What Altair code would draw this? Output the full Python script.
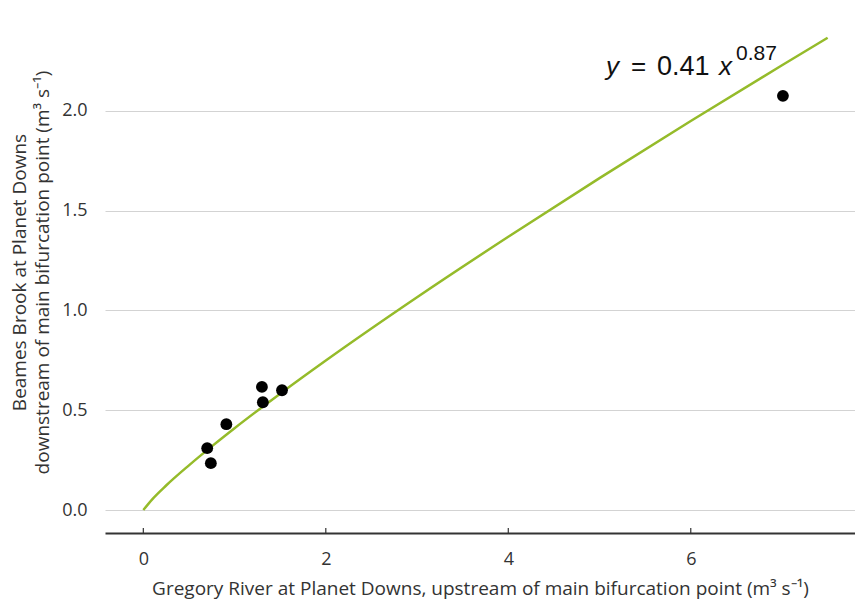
import altair as alt
import pandas as pd

# Observed points (Gregory River flow, Beames Brook flow), m3/s
gregory = [0.70, 0.74, 0.91, 1.30, 1.31, 1.52, 7.01]
beames = [0.31, 0.235, 0.43, 0.617, 0.54, 0.60, 2.075]

# Fitted power curve
curve_x = [0.0, 0.1, 0.25, 0.5, 0.75, 1.0, 1.5, 2.0, 3.0, 4.0, 5.0, 6.0, 7.0, 7.5]
curve_y = [0.0, 0.055, 0.123, 0.224, 0.319, 0.41, 0.583, 0.749, 1.066, 1.369, 1.663, 1.949, 2.228, 2.366]

x_ticks = [0, 2, 4, 6]
y_ticks = [0.0, 0.5, 1.0, 1.5, 2.0]

W, H = 750, 522
FONT = "Open Sans"
TXT = "#333333"

pts = pd.DataFrame({"x": gregory, "y": beames})
crv = pd.DataFrame({"x": curve_x, "y": curve_y})
tks = pd.DataFrame({"x": x_ticks})

xscale = alt.Scale(domain=[-0.42, 7.8], nice=False, zero=False)
yscale = alt.Scale(domain=[-0.115, 2.5], nice=False, zero=False)

xaxis = alt.Axis(
    title="Gregory River at Planet Downs, upstream of main bifurcation point (m³ s⁻¹)",
    values=x_ticks, format="d", grid=False, ticks=False,
    domainColor="#333333", domainWidth=2,
    labelPadding=17, labelFontSize=18, labelFont=FONT, labelColor=TXT,
    titleFont=FONT, titleFontSize=19, titleFontWeight="normal", titleColor=TXT,
    titlePadding=11,
)
yaxis = alt.Axis(
    title=["Beames Brook at Planet Downs", "downstream of main bifurcation point (m³ s⁻¹)"],
    values=y_ticks, format=".1f", domain=False, ticks=False,
    grid=True, gridColor="#d3d3d3", gridWidth=1,
    labelPadding=18, labelFontSize=18, labelFont=FONT, labelColor=TXT,
    titleFont=FONT, titleFontSize=19, titleFontWeight="normal", titleColor=TXT,
    titlePadding=9, titleLineHeight=23,
)

base_axes = alt.Chart(crv).mark_line(opacity=0).encode(
    x=alt.X("x:Q", scale=xscale, axis=xaxis),
    y=alt.Y("y:Q", scale=yscale, axis=yaxis),
)

line = alt.Chart(crv).mark_line(color="#95bb2a", strokeWidth=2.5, interpolate="monotone").encode(
    x=alt.X("x:Q", scale=xscale),
    y=alt.Y("y:Q", scale=yscale),
)

points = alt.Chart(pts).mark_circle(color="black", size=140, opacity=1).encode(
    x=alt.X("x:Q", scale=xscale),
    y=alt.Y("y:Q", scale=yscale),
)

ticks = alt.Chart(tks).mark_rule(color="#333333", strokeWidth=1.2).encode(
    x=alt.X("x:Q", scale=xscale),
    y=alt.value(H - 5),
    y2=alt.value(H),
)

eq_font = "Liberation Sans"
EQ_COL = "#111111"


def eq_part(txt, px, py, size, italic=False):
    kw = dict(font=eq_font, fontSize=size, align="left", baseline="alphabetic", color=EQ_COL)
    if italic:
        kw["fontStyle"] = "italic"
    return alt.Chart(pd.DataFrame({"t": [txt]})).mark_text(**kw).encode(
        text="t:N", x=alt.value(px), y=alt.value(py)
    )


# pixel offsets relative to the plot area's top-left corner
eq_layers = [
    eq_part("y", 501, 64, 26, italic=True),
    eq_part("=", 526, 64, 26),
    eq_part("0.41", 552, 64, 27),
    eq_part("x", 614, 64, 26, italic=True),
    eq_part("0.87", 631, 49, 21),
]

chart = alt.layer(base_axes, line, ticks, points, *eq_layers).properties(
    width=W, height=H,
    autosize=alt.AutoSizeParams(type="none"),
    padding={"left": 105, "top": 11, "right": 0, "bottom": 73},
    background="white",
).configure_view(strokeWidth=0)

chart.save("out.html", embed_options={"renderer": "svg", "actions": False})
